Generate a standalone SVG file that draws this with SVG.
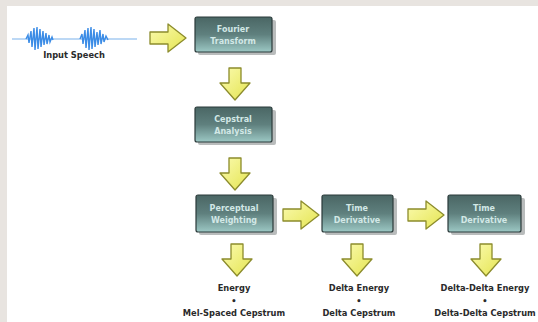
<svg xmlns="http://www.w3.org/2000/svg" width="538" height="322" viewBox="0 0 538 322">
<defs>
<linearGradient id="boxg" x1="0" y1="0" x2="0" y2="1">
<stop offset="0" stop-color="#4a6664"/>
<stop offset="0.5" stop-color="#5f807e"/>
<stop offset="1" stop-color="#9cc8c4"/>
</linearGradient>
<linearGradient id="arrg" x1="0" y1="0" x2="1" y2="1">
<stop offset="0" stop-color="#fbfbb0"/>
<stop offset="1" stop-color="#e4e450"/>
</linearGradient>
<path id="ar" d="M0,8 L18,8 L18,0 L36,14 L18,28 L18,20 L0,20 Z"/>
<path id="ad" d="M8,0 L20,0 L20,15 L29,15 L14,32 L-1,15 L8,15 Z"/>
</defs>
<style>
.bx{fill:url(#boxg);stroke:#2b3a3a;stroke-width:1.2}
.sh{fill:#8a8f8f;opacity:0.6}
.bt{font-family:"DejaVu Sans",Verdana,sans-serif;font-size:8px;font-weight:bold;fill:#d2e8e6;text-anchor:middle}
.lb{font-family:"DejaVu Sans",Verdana,sans-serif;font-size:8.3px;font-weight:bold;fill:#2a2a2a;text-anchor:middle}
.arrow use{fill:url(#arrg);stroke:#8c8c2c;stroke-width:1.3;stroke-linejoin:round}
.wave{fill:none;stroke:#3b8ce6;stroke-width:1.4}
</style>
<rect x="0" y="0" width="538" height="322" fill="#ffffff"/>
<rect x="0" y="0" width="538" height="6" fill="#e8e4e0"/>
<rect x="0" y="0" width="7" height="322" fill="#e8e4e0"/>

<g id="input-speech">
<line x1="12" y1="39" x2="137" y2="39" stroke="#7ab2ec" stroke-width="1.2"/>
<path class="wave" d="M26,39 L28,35 L29,43 L31,31 L32,47 L34,28 L35,50 L37,27 L38,49 L40,29 L41,47 L43,31 L44,45 L46,33 L47,44 L49,35 L50,42 L52,37 L53,40"/>
<path class="wave" d="M80,39 L82,34 L83,44 L85,30 L86,48 L88,28 L89,50 L91,27 L92,49 L94,29 L95,47 L97,32 L98,45 L100,30 L101,44 L103,34 L104,42 L106,36 L108,40"/>
<text class="lb" x="74" y="58">Input Speech</text>
</g>

<g id="fourier">
<rect class="sh" x="198" y="20" width="78" height="35" rx="2"/>
<rect class="bx" x="195" y="17" width="77" height="35" rx="2"/>
<text class="bt" x="233" y="32">Fourier</text>
<text class="bt" x="233" y="44">Transform</text>
</g>

<g id="cepstral">
<rect class="sh" x="198" y="110" width="78" height="35" rx="2"/>
<rect class="bx" x="195" y="107" width="77" height="35" rx="2"/>
<text class="bt" x="233" y="122">Cepstral</text>
<text class="bt" x="233" y="134">Analysis</text>
</g>

<g id="perceptual">
<rect class="sh" x="199" y="198" width="78" height="37" rx="2"/>
<rect class="bx" x="196" y="195" width="77" height="37" rx="2"/>
<text class="bt" x="234" y="211">Perceptual</text>
<text class="bt" x="234" y="223">Weighting</text>
</g>

<g id="time-derivative-1">
<rect class="sh" x="325" y="198" width="72" height="37" rx="2"/>
<rect class="bx" x="322" y="195" width="71" height="37" rx="2"/>
<text class="bt" x="357" y="211">Time</text>
<text class="bt" x="357" y="223">Derivative</text>
</g>

<g id="time-derivative-2">
<rect class="sh" x="451" y="198" width="74" height="37" rx="2"/>
<rect class="bx" x="448" y="195" width="73" height="37" rx="2"/>
<text class="bt" x="484" y="211">Time</text>
<text class="bt" x="484" y="223">Derivative</text>
</g>

<g id="out-1">
<text class="lb" x="234" y="291">Energy</text>
<text class="lb" x="234" y="304">•</text>
<text class="lb" x="234" y="316">Mel-Spaced Cepstrum</text>
</g>
<g id="out-2">
<text class="lb" x="359" y="291">Delta Energy</text>
<text class="lb" x="359" y="304">•</text>
<text class="lb" x="359" y="316">Delta Cepstrum</text>
</g>
<g id="out-3">
<text class="lb" x="485" y="291">Delta-Delta Energy</text>
<text class="lb" x="485" y="304">•</text>
<text class="lb" x="485" y="316">Delta-Delta Cepstrum</text>
</g>

<g id="connectors" class="arrow">
<use href="#ar" transform="translate(150,24)"/>
<use href="#ad" transform="translate(221,68)"/>
<use href="#ad" transform="translate(221,158)"/>
<use href="#ar" transform="translate(283,201)"/>
<use href="#ar" transform="translate(408,201)"/>
<use href="#ad" transform="translate(223,244)"/>
<use href="#ad" transform="translate(343,244)"/>
<use href="#ad" transform="translate(472,244)"/>
</g>
</svg>
